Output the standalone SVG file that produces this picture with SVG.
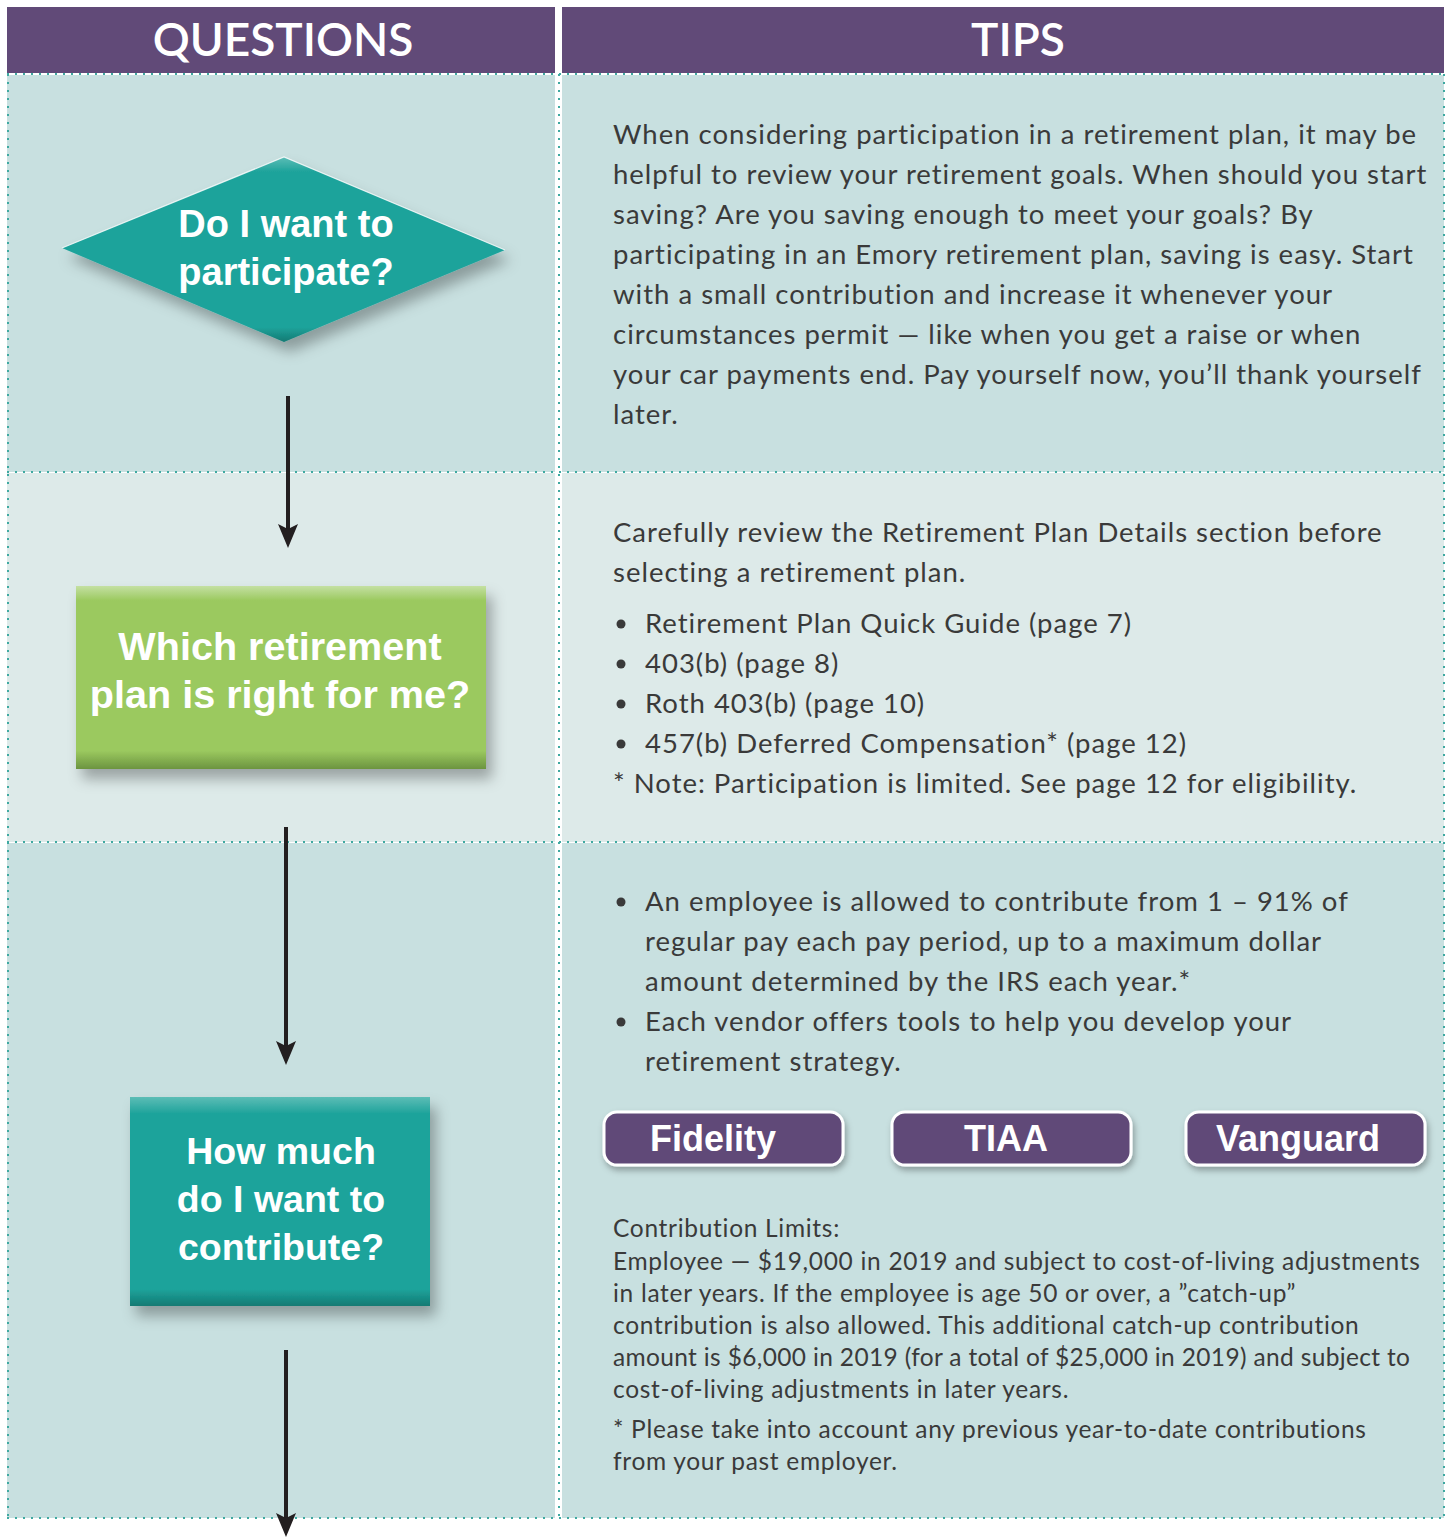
<svg xmlns="http://www.w3.org/2000/svg" width="1449" height="1537" viewBox="0 0 1449 1537">
<style>
.hdr{fill:#614a78}
.hdrt{font-family:Lato,"Open Sans",sans-serif;font-weight:600;font-size:46px;fill:#fff;text-anchor:middle}
.dot{stroke:#3fa9a1;stroke-width:2;stroke-dasharray:2 6;fill:none}
.tip{font-family:Lato,"Noto Sans",sans-serif;font-size:27.5px;letter-spacing:1px;fill:#3a3a3a}
.small{font-family:Lato,"Noto Sans",sans-serif;font-size:24.5px;letter-spacing:0.7px;fill:#3a3a3a}
.q{font-family:"Liberation Sans",Arial,sans-serif;font-weight:bold;fill:#fff;text-anchor:middle}
.btn{fill:#614a78;stroke:#fff;stroke-width:3}
.btnt{font-family:"Liberation Sans",Arial,sans-serif;font-weight:bold;font-size:36px;fill:#fff;text-anchor:middle}
.conn{stroke:#231f20;stroke-width:4;fill:none}
</style>
<defs>
<filter id="sh" x="-20%" y="-20%" width="150%" height="160%">
<feDropShadow dx="6" dy="10" stdDeviation="7" flood-color="#000" flood-opacity="0.3"/>
</filter>
<filter id="shs" x="-10%" y="-30%" width="120%" height="170%">
<feDropShadow dx="2" dy="4" stdDeviation="3" flood-color="#000" flood-opacity="0.3"/>
</filter>
<linearGradient id="gTeal" x1="0" y1="0" x2="0" y2="1">
<stop offset="0" stop-color="#5cbdb6"/><stop offset="0.08" stop-color="#1ea39b"/><stop offset="0.92" stop-color="#1ea39b"/><stop offset="1" stop-color="#137a73"/>
</linearGradient>
<linearGradient id="gGreen" x1="0" y1="0" x2="0" y2="1">
<stop offset="0" stop-color="#c4e0a2"/><stop offset="0.08" stop-color="#9bc95f"/><stop offset="0.9" stop-color="#9bc95f"/><stop offset="1" stop-color="#6c9440"/>
</linearGradient>
<marker id="ah2" viewBox="0 0 20 24" refX="10" refY="14" markerWidth="20" markerHeight="24" markerUnits="userSpaceOnUse" orient="0">
<path d="M0,0 L10,5 L20,0 L10,24 Z" fill="#231f20"/>
</marker>
</defs>
<rect width="1449" height="1537" fill="#fff"/>
<!-- header -->
<rect class="hdr" x="7" y="7" width="548" height="66"/>
<rect class="hdr" x="562" y="7" width="882" height="66"/>
<text class="hdrt" x="283" y="56">QUESTIONS</text>
<text class="hdrt" x="1018" y="56">TIPS</text>
<!-- rows -->
<rect x="7" y="75" width="548" height="397" fill="#c8e0e0"/>
<rect x="562" y="75" width="882" height="397" fill="#c8e0e0"/>
<rect x="7" y="473" width="548" height="369" fill="#ddeae9"/>
<rect x="562" y="473" width="882" height="369" fill="#ddeae9"/>
<rect x="7" y="843" width="548" height="675" fill="#c8e0e0"/>
<rect x="562" y="843" width="882" height="675" fill="#c8e0e0"/>
<!-- dotted lines -->
<g class="dot">
<line x1="7" y1="74" x2="1445" y2="74"/>
<line x1="7" y1="472" x2="1445" y2="472"/>
<line x1="7" y1="842" x2="1445" y2="842"/>
<line x1="7" y1="1518" x2="1445" y2="1518"/>
<line x1="8" y1="74" x2="8" y2="1518"/>
<line x1="559" y1="74" x2="559" y2="1518"/>
<line x1="1444" y1="74" x2="1444" y2="1518"/>
</g>
<!-- connectors -->
<g id="connectors">
<line class="conn" x1="288" y1="396" x2="288" y2="538" marker-end="url(#ah2)"/>
<line class="conn" x1="286" y1="827" x2="286" y2="1055" marker-end="url(#ah2)"/>
<line class="conn" x1="286" y1="1350" x2="286" y2="1527" marker-end="url(#ah2)"/>
</g>
<!-- nodes -->
<g id="node-participate">
<polygon points="284,157 505,250 284,342 62,248" fill="url(#gTeal)" filter="url(#sh)"/>
<polyline points="62,248 284,157 505,250" fill="none" stroke="#fff" stroke-width="1.2" opacity="0.8"/>
<text class="q" font-size="38" x="286" y="237">Do I want to</text>
<text class="q" font-size="38" x="286" y="285">participate?</text>
</g>
<g id="node-plan">
<rect x="76" y="586" width="410" height="183" fill="url(#gGreen)" filter="url(#sh)"/>
<text class="q" font-size="39.6" x="280" y="660">Which retirement</text>
<text class="q" font-size="39.6" x="280" y="708">plan is right for me?</text>
</g>
<g id="node-contribute">
<rect x="130" y="1097" width="300" height="209" fill="url(#gTeal)" filter="url(#sh)"/>
<text class="q" font-size="37.5" x="281" y="1164">How much</text>
<text class="q" font-size="37.5" x="281" y="1212">do I want to</text>
<text class="q" font-size="37.5" x="281" y="1260">contribute?</text>
</g>
<!-- tips row 1 -->
<g id="tip-1" class="tip">
<text x="613" y="144">When considering participation in a retirement plan, it may be</text>
<text x="613" y="184">helpful to review your retirement goals. When should you start</text>
<text x="613" y="224">saving? Are you saving enough to meet your goals? By</text>
<text x="613" y="264">participating in an Emory retirement plan, saving is easy. Start</text>
<text x="613" y="304">with a small contribution and increase it whenever your</text>
<text x="613" y="344">circumstances permit — like when you get a raise or when</text>
<text x="613" y="384">your car payments end. Pay yourself now, you’ll thank yourself</text>
<text x="613" y="424">later.</text>
</g>
<!-- tips row 2 -->
<g id="tip-2" class="tip">
<text x="613" y="542">Carefully review the Retirement Plan Details section before</text>
<text x="613" y="582">selecting a retirement plan.</text>
<circle cx="621" cy="624" r="4.5" fill="#3a3a3a"/>
<text x="645" y="633">Retirement Plan Quick Guide (page 7)</text>
<circle cx="621" cy="664" r="4.5" fill="#3a3a3a"/>
<text x="645" y="673">403(b) (page 8)</text>
<circle cx="621" cy="704" r="4.5" fill="#3a3a3a"/>
<text x="645" y="713">Roth 403(b) (page 10)</text>
<circle cx="621" cy="744" r="4.5" fill="#3a3a3a"/>
<text x="645" y="753">457(b) Deferred Compensation* (page 12)</text>
<text x="613" y="793">* Note: Participation is limited. See page 12 for eligibility.</text>
</g>
<!-- tips row 3 -->
<g id="tip-3" class="tip">
<circle cx="621" cy="902" r="4.5" fill="#3a3a3a"/>
<text x="645" y="911">An employee is allowed to contribute from 1 – 91% of</text>
<text x="645" y="951">regular pay each pay period, up to a maximum dollar</text>
<text x="645" y="991">amount determined by the IRS each year.*</text>
<circle cx="621" cy="1022" r="4.5" fill="#3a3a3a"/>
<text x="645" y="1031">Each vendor offers tools to help you develop your</text>
<text x="645" y="1071">retirement strategy.</text>
</g>
<g id="btn-fidelity">
<rect class="btn" x="604" y="1112" width="239" height="53" rx="13" filter="url(#shs)"/>
<text class="btnt" x="713" y="1151">Fidelity</text>
</g>
<g id="btn-tiaa">
<rect class="btn" x="892" y="1112" width="239" height="53" rx="13" filter="url(#shs)"/>
<text class="btnt" x="1006" y="1151">TIAA</text>
</g>
<g id="btn-vanguard">
<rect class="btn" x="1186" y="1112" width="239" height="53" rx="13" filter="url(#shs)"/>
<text class="btnt" x="1298" y="1151">Vanguard</text>
</g>
<g id="limits" class="small">
<text x="613" y="1237">Contribution Limits:</text>
<text x="613" y="1270">Employee — $19,000 in 2019 and subject to cost-of-living adjustments</text>
<text x="613" y="1302">in later years. If the employee is age 50 or over, a ”catch-up”</text>
<text x="613" y="1334">contribution is also allowed. This additional catch-up contribution</text>
<text x="613" y="1366" textLength="797" lengthAdjust="spacing" letter-spacing="0">amount is $6,000 in 2019 (for a total of $25,000 in 2019) and subject to</text>
<text x="613" y="1398">cost-of-living adjustments in later years.</text>
<text x="613" y="1438">* Please take into account any previous year-to-date contributions</text>
<text x="613" y="1470">from your past employer.</text>
</g>
</svg>
